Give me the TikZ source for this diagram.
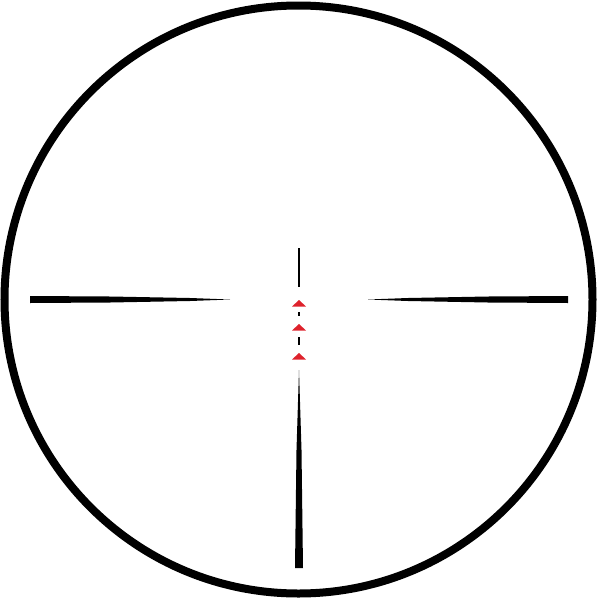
\documentclass[tikz,border=0pt]{standalone}
\usetikzlibrary{positioning}
\definecolor{dotred}{RGB}{222,34,44}
\tikzset{
  ring/.style={draw=black, line width=8pt},
  post/.style={fill=black},
  fine/.style={draw=black, line width=1.4pt},
  marker/.style={fill=dotred}
}
\begin{document}
\begin{tikzpicture}[x=1pt,y=-1pt]
        \useasboundingbox (0,0) rectangle (600,600);
        \coordinate (centre) at (298.5,299.5);

        % Outer ring
        \draw[ring] (centre) circle (294);

        % Thick posts
        \fill[post] (30,296) -- (110,296.5) -- (190,298) -- (230,299.5)
            -- (190,301) -- (110,302.5) -- (30,303) -- cycle;
        \fill[post] (568,296) -- (488,296.5) -- (408,298) -- (368,299.5)
            -- (408,301) -- (488,302.5) -- (568,303) -- cycle;
        \fill[post] (295,568) -- (296.5,450) -- (299,370) -- (301.5,450)
            -- (303,568) -- cycle;

        % Fine top wire
        \coordinate (wiretop) at (299,248);
        \coordinate (wirebot) at (299,287);
        \draw[fine] (wiretop) -- (wirebot);

        % Dashes between markers
        \draw[fine] (299,312) -- (299,316);
        \draw[fine] (299,337) -- (299,345);

        % Red markers
        \foreach \y in {300,324,353} {
            \fill[marker] (299,\y) -- (306,\y+6.5) -- (292,\y+6.5) -- cycle;
        }
\end{tikzpicture}
\end{document}
